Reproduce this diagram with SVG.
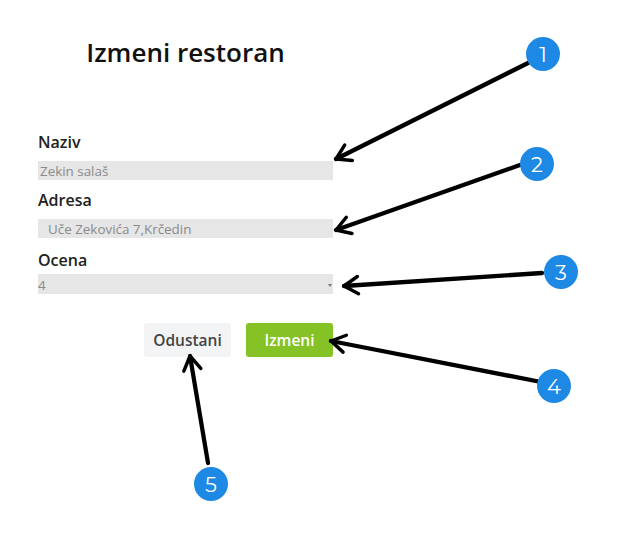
<svg xmlns="http://www.w3.org/2000/svg" width="618" height="538" viewBox="0 0 618 538">
<style>
.lbl{font-family:"Open Sans","Noto Sans",sans-serif;font-weight:600;font-size:16px;fill:#222}
.val{font-family:"Open Sans","Noto Sans",sans-serif;font-size:13.4px;fill:#8a8a8a}
.box{fill:#e6e6e6}
.btn{font-family:"Open Sans","Noto Sans",sans-serif;font-weight:600;font-size:15.5px;text-anchor:middle}
.badge circle{fill:#1e88e5}
.badge text{font-family:"Montserrat","Lato","Open Sans",sans-serif;font-size:21px;fill:#fff;text-anchor:middle}
.arr{stroke:#000;stroke-width:4.3;fill:none;stroke-linecap:round;marker-end:url(#ah)}
</style>
<defs>
<marker id="ah" viewBox="0 0 20 20" refX="17" refY="10" markerWidth="5" markerHeight="5" orient="auto" markerUnits="strokeWidth">
<path d="M4 2 L17 10 L4 18" fill="none" stroke="#000" stroke-width="3.2" stroke-linecap="round" stroke-linejoin="round"/>
</marker>
</defs>
<rect width="618" height="538" fill="#fff"/>
<g id="title"><text x="185.5" y="62" text-anchor="middle" font-family="Open Sans,Noto Sans,sans-serif" font-weight="600" font-size="26" fill="#111">Izmeni restoran</text></g>
<g id="naziv">
<text class="lbl" x="38" y="148">Naziv</text>
<rect class="box" x="38" y="161" width="295" height="19"/>
<text class="val" x="40" y="176">Zekin salaš</text>
</g>
<g id="adresa">
<text class="lbl" x="38" y="206">Adresa</text>
<rect class="box" x="38" y="219" width="295" height="19"/>
<text class="val" x="48" y="234">Uče Zekovića 7,Krčedin</text>
</g>
<g id="ocena">
<text class="lbl" x="38" y="266">Ocena</text>
<rect class="box" x="38" y="274" width="295" height="20"/>
<text class="val" x="38" y="290">4</text>
<path d="M328 284 L332 284 L330 287 Z" fill="#777"/>
</g>
<g id="btn-odustani">
<rect x="144" y="323" width="87" height="34" rx="3" fill="#f3f4f6"/>
<text class="btn" x="187.5" y="346" fill="#444">Odustani</text>
</g>
<g id="btn-izmeni">
<rect x="246" y="323" width="87" height="34" rx="3" fill="#84c225"/>
<text class="btn" x="289.5" y="346" fill="#fff">Izmeni</text>
</g>
<g id="connectors">
<line class="arr" x1="528" y1="63" x2="336" y2="159"/>
<line class="arr" x1="520" y1="165" x2="336" y2="230"/>
<line class="arr" x1="542" y1="273" x2="344" y2="286"/>
<line class="arr" x1="541" y1="382" x2="331" y2="341"/>
<line class="arr" x1="208" y1="463" x2="190" y2="356"/>
</g>
<g id="badge1" class="badge"><circle cx="543" cy="54" r="17"/><text x="543" y="62">1</text></g>
<g id="badge2" class="badge"><circle cx="537" cy="164" r="17"/><text x="537" y="172">2</text></g>
<g id="badge3" class="badge"><circle cx="561" cy="272" r="17"/><text x="561" y="280">3</text></g>
<g id="badge4" class="badge"><circle cx="554" cy="386" r="17"/><text x="554" y="394">4</text></g>
<g id="badge5" class="badge"><circle cx="211" cy="484" r="17"/><text x="211" y="492">5</text></g>
</svg>
